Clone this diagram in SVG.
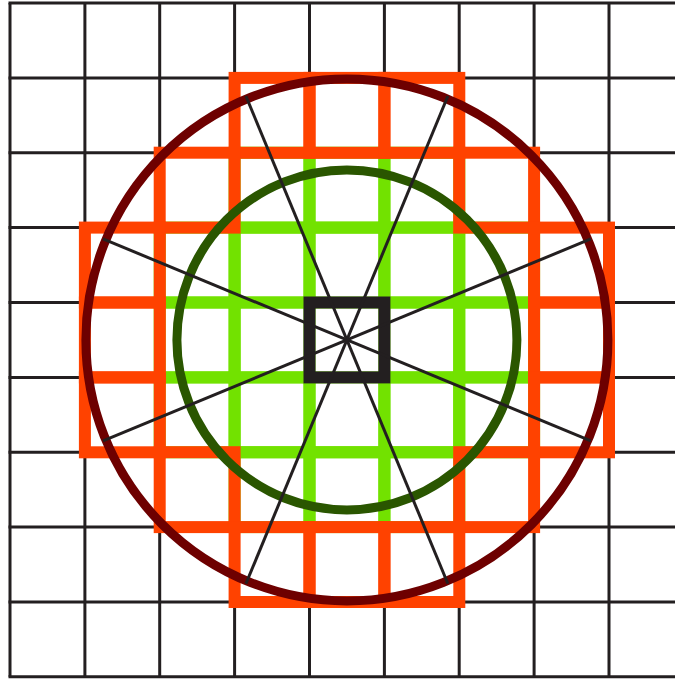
<svg xmlns="http://www.w3.org/2000/svg" width="675" height="679" viewBox="0 0 675 679">
<style>
.grid line{stroke:#231F20;stroke-width:3}
.g rect{fill:none;stroke:#72E200;stroke-width:12}
.o rect{fill:none;stroke:#FF4200;stroke-width:12}
.spoke{stroke:#231F20;stroke-width:3}
</style>
<rect width="675" height="679" fill="#fff"/>
<g id="grid" class="grid">
<line x1="10" y1="3" x2="10" y2="676.8"/>
<line x1="84.9" y1="3" x2="84.9" y2="676.8"/>
<line x1="159.7" y1="3" x2="159.7" y2="676.8"/>
<line x1="234.6" y1="3" x2="234.6" y2="676.8"/>
<line x1="309.5" y1="3" x2="309.5" y2="676.8"/>
<line x1="384.4" y1="3" x2="384.4" y2="676.8"/>
<line x1="459.2" y1="3" x2="459.2" y2="676.8"/>
<line x1="534.1" y1="3" x2="534.1" y2="676.8"/>
<line x1="609" y1="3" x2="609" y2="676.8"/>
<line x1="8.5" y1="3" x2="685" y2="3"/>
<line x1="8.5" y1="77.9" x2="685" y2="77.9"/>
<line x1="8.5" y1="152.7" x2="685" y2="152.7"/>
<line x1="8.5" y1="227.6" x2="685" y2="227.6"/>
<line x1="8.5" y1="302.5" x2="685" y2="302.5"/>
<line x1="8.5" y1="377.4" x2="685" y2="377.4"/>
<line x1="8.5" y1="452.2" x2="685" y2="452.2"/>
<line x1="8.5" y1="527.1" x2="685" y2="527.1"/>
<line x1="8.5" y1="602" x2="685" y2="602"/>
<line x1="8.5" y1="676.8" x2="685" y2="676.8"/>
</g>
<g id="inner-cells" class="g">
<rect x="234.6" y="152.7" width="74.9" height="74.9"/>
<rect x="309.5" y="152.7" width="74.9" height="74.9"/>
<rect x="384.4" y="152.7" width="74.9" height="74.9"/>
<rect x="159.7" y="227.6" width="74.9" height="74.9"/>
<rect x="234.6" y="227.6" width="74.9" height="74.9"/>
<rect x="309.5" y="227.6" width="74.9" height="74.9"/>
<rect x="384.4" y="227.6" width="74.9" height="74.9"/>
<rect x="459.2" y="227.6" width="74.9" height="74.9"/>
<rect x="159.7" y="302.5" width="74.9" height="74.9"/>
<rect x="234.6" y="302.5" width="74.9" height="74.9"/>
<rect x="384.4" y="302.5" width="74.9" height="74.9"/>
<rect x="459.2" y="302.5" width="74.9" height="74.9"/>
<rect x="159.7" y="377.4" width="74.9" height="74.9"/>
<rect x="234.6" y="377.4" width="74.9" height="74.9"/>
<rect x="309.5" y="377.4" width="74.9" height="74.9"/>
<rect x="384.4" y="377.4" width="74.9" height="74.9"/>
<rect x="459.2" y="377.4" width="74.9" height="74.9"/>
<rect x="234.6" y="452.2" width="74.9" height="74.9"/>
<rect x="309.5" y="452.2" width="74.9" height="74.9"/>
<rect x="384.4" y="452.2" width="74.9" height="74.9"/>
</g>
<g id="outer-cells" class="o">
<rect x="234.6" y="77.9" width="74.9" height="74.9"/>
<rect x="309.5" y="77.9" width="74.9" height="74.9"/>
<rect x="384.4" y="77.9" width="74.9" height="74.9"/>
<rect x="159.7" y="152.7" width="74.9" height="74.9"/>
<rect x="459.2" y="152.7" width="74.9" height="74.9"/>
<rect x="84.9" y="227.6" width="74.9" height="74.9"/>
<rect x="534.1" y="227.6" width="74.9" height="74.9"/>
<rect x="84.9" y="302.5" width="74.9" height="74.9"/>
<rect x="534.1" y="302.5" width="74.9" height="74.9"/>
<rect x="84.9" y="377.4" width="74.9" height="74.9"/>
<rect x="534.1" y="377.4" width="74.9" height="74.9"/>
<rect x="159.7" y="452.2" width="74.9" height="74.9"/>
<rect x="459.2" y="452.2" width="74.9" height="74.9"/>
<rect x="234.6" y="527.1" width="74.9" height="74.9"/>
<rect x="309.5" y="527.1" width="74.9" height="74.9"/>
<rect x="384.4" y="527.1" width="74.9" height="74.9"/>
</g>
<g id="center-cell">
<rect x="309.5" y="302.5" width="74.9" height="74.9" fill="none" stroke="#231F20" stroke-width="12"/>
</g>
<g id="circles" fill="none">
<circle id="inner-circle" cx="346.9" cy="339.9" r="170" stroke="#2A5600" stroke-width="9"/>
<circle id="outer-circle" cx="346.9" cy="339.9" r="261" stroke="#6E0000" stroke-width="9"/>
</g>
<g id="spokes" class="spoke">
<line x1="103" y1="238.9" x2="590.8" y2="440.9"/>
<line x1="103" y1="440.9" x2="590.8" y2="238.9"/>
<line x1="245.9" y1="96" x2="447.9" y2="583.8"/>
<line x1="447.9" y1="96" x2="245.9" y2="583.8"/>
</g>
</svg>
